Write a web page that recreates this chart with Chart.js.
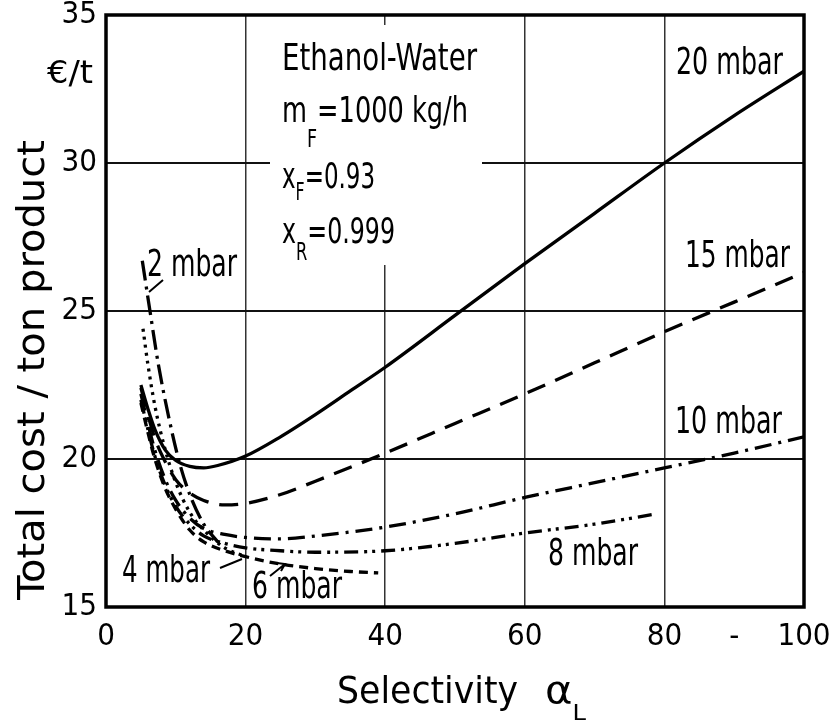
<!DOCTYPE html>
<html>
<head>
<meta charset="utf-8">
<script src="https://cdn.jsdelivr.net/npm/chart.js@4.4.1/dist/chart.umd.min.js"></script>
<style>
  html, body { margin: 0; padding: 0; background: #fff; }
  #chart { display: block; }
</style>
</head>
<body>
<canvas id="chart" width="829" height="724"></canvas>
<script>
// --- data ---
const FONT = "'Liberation Sans Narrow', 'DejaVu Sans Condensed', 'Arial Narrow', sans-serif";

const xTickLabels = ['0', '', '20', '', '40', '', '60', '', '80', '-', '100']; // every 10
const yTickLabels = ['15', '20', '25', '30', '35'];

// 20 mbar (solid)
const p20x = [5, 6, 7, 8.5, 10, 12, 14, 16, 20, 25, 30, 35, 40, 50, 60, 70, 80, 90, 100];
const p20y = [22.5, 21.7, 21.0, 20.3, 19.95, 19.75, 19.7, 19.78, 20.1, 20.75, 21.5, 22.3, 23.1, 24.85, 26.6, 28.3, 30.0, 31.6, 33.1];
// 15 mbar (dashed)
const p15x = [5, 6, 7, 8.5, 10, 12, 14, 17, 20, 25, 30, 40, 50, 60, 70, 80, 90, 100];
const p15y = [22.4, 21.5, 20.7, 19.9, 19.3, 18.85, 18.6, 18.45, 18.5, 18.8, 19.25, 20.2, 21.2, 22.2, 23.25, 24.3, 25.3, 26.3];
// 10 mbar (dash-dot)
const p10x = [5, 6, 7, 8.5, 10, 12, 14, 17, 20, 25, 30, 40, 50, 60, 70, 80, 90, 100];
const p10y = [22.2, 21.2, 20.3, 19.3, 18.6, 18.0, 17.65, 17.45, 17.35, 17.3, 17.4, 17.7, 18.15, 18.7, 19.2, 19.7, 20.2, 20.75];
// 8 mbar (dash-dot-dot)
const p8x = [5, 6, 7, 8.5, 10, 12, 14, 17, 20, 25, 30, 40, 50, 60, 70, 79];
const p8y = [22.0, 21.0, 20.1, 19.1, 18.4, 17.8, 17.4, 17.15, 17.0, 16.9, 16.85, 16.9, 17.15, 17.5, 17.8, 18.15];
// 6 mbar (short dashes)
const p6x = [5, 6, 7, 8.5, 10, 12, 14, 17, 20, 25, 30, 35, 39];
const p6y = [21.9, 20.9, 20.0, 19.0, 18.3, 17.6, 17.2, 16.9, 16.7, 16.45, 16.3, 16.2, 16.15];
// 4 mbar (dotted)
const p4x = [5.3, 6, 7, 8.5, 10, 12, 14, 17, 20];
const p4y = [24.4, 23.2, 21.8, 20.3, 19.2, 18.2, 17.6, 17.0, 16.7];
// 2 mbar (long dash-dot)
const p2x = [5.2, 6.3, 7.5, 9, 10.5, 12, 14, 16];
const p2y = [26.7, 25.0, 23.2, 21.4, 19.9, 18.8, 17.8, 17.2];

function pts(xs, ys) {
    return xs.map((x, i) => ({ x: x, y: ys[i] }));
}

function series(label, xs, ys, dash) {
    return {
        label: label,
        data: pts(xs, ys),
        borderColor: '#000',
        borderWidth: 3.3,
        borderDash: dash,
        pointRadius: 0,
        fill: false,
        cubicInterpolationMode: 'monotone'
    };
}

// draw a text made of parts (some subscripted), squeezed to a target width
function drawRich(ctx, parts, x, y, targetW, size) {
    let w = 0;
    parts.forEach(p => {
        ctx.font = (p.sub ? p.size : size) + 'px ' + FONT;
        w += ctx.measureText(p.t).width;
    });
    const k = targetW ? targetW / w : 1;
    ctx.save();
    ctx.translate(x, y);
    ctx.scale(k, 1);
    let cx = 0;
    parts.forEach(p => {
        ctx.font = (p.sub ? p.size : size) + 'px ' + FONT;
        ctx.fillText(p.t, cx, p.sub ? p.dy : 0);
        cx += ctx.measureText(p.t).width;
    });
    ctx.restore();
}

const decor = {
    id: 'decor',
    beforeDatasetsDraw(chart) {
        const ctx = chart.ctx;
        // white panel behind the info text block
        ctx.save();
        ctx.fillStyle = '#fff';
        ctx.fillRect(270, 25, 212, 240);
        ctx.restore();
    },
    afterDraw(chart) {
        const ctx = chart.ctx;
        const a = chart.chartArea;
        ctx.save();
        ctx.strokeStyle = '#000';
        ctx.lineWidth = 3.5;
        ctx.strokeRect(a.left, a.top, a.right - a.left, a.bottom - a.top);

        ctx.fillStyle = '#000';
        ctx.textBaseline = 'alphabetic';
        ctx.textAlign = 'left';

        // info block
        drawRich(ctx, [{ t: 'Ethanol-Water' }], 282, 70, 195, 38);
        drawRich(ctx, [{ t: 'm' }, { t: 'F', sub: true, size: 24, dy: 25 }, { t: '=1000 kg/h' }], 282, 122, 186, 35);
        drawRich(ctx, [{ t: 'x' }, { t: 'F', sub: true, size: 24, dy: 12 }, { t: '=0.93' }], 282, 188, 93, 35);
        drawRich(ctx, [{ t: 'x' }, { t: 'R', sub: true, size: 24, dy: 17 }, { t: '=0.999' }], 282, 243, 113, 35);

        // curve labels
        drawRich(ctx, [{ t: '20 mbar' }], 676, 74, 107, 38);
        drawRich(ctx, [{ t: '15 mbar' }], 685, 267, 105, 38);
        drawRich(ctx, [{ t: '10 mbar' }], 675, 433, 107, 38);
        drawRich(ctx, [{ t: '8 mbar' }], 548, 565, 90, 38);
        drawRich(ctx, [{ t: '6 mbar' }], 252, 598, 90, 38);
        drawRich(ctx, [{ t: '4 mbar' }], 122, 582, 88, 38);
        drawRich(ctx, [{ t: '2 mbar' }], 147, 276, 90, 38);

        // leader lines
        ctx.lineWidth = 2;
        ctx.beginPath();
        ctx.moveTo(149, 292); ctx.lineTo(163, 280);
        ctx.moveTo(220, 568); ctx.lineTo(242, 559);
        ctx.moveTo(270, 576); ctx.lineTo(285, 564);
        ctx.moveTo(277, 563); ctx.lineTo(285, 564); ctx.lineTo(281, 571);
        ctx.stroke();

        // unit under the top y tick
        drawRich(ctx, [{ t: '\u20AC/t' }], 47, 83, 46, 32);

        // x axis title
        drawRich(ctx, [{ t: 'Selectivity' }], 337, 703, 181, 38);
        drawRich(ctx, [{ t: '\u03B1' }, { t: 'L', sub: true, size: 22, dy: 17 }], 545, 703, 41, 38);

        // y axis title (rotated)
        ctx.translate(44, 600);
        ctx.rotate(-Math.PI / 2);
        drawRich(ctx, [{ t: 'Total cost / ton product' }], 0, 0, 460, 37);
        ctx.restore();
    }
};

new Chart(document.getElementById('chart').getContext('2d'), {
    type: 'line',
    data: {
        datasets: [
            series('20 mbar', p20x, p20y, []),
            series('15 mbar', p15x, p15y, [19, 11]),
            series('10 mbar', p10x, p10y, [17, 7, 3, 7]),
            series('8 mbar', p8x, p8y, [14, 6, 3, 5, 3, 6]),
            series('6 mbar', p6x, p6y, [9, 6]),
            series('4 mbar', p4x, p4y, [3, 5]),
            series('2 mbar', p2x, p2y, [20, 6, 3, 6])
        ]
    },
    options: {
        responsive: false,
        animation: false,
        events: [],
        layout: { padding: { top: 15, right: 25, left: 0, bottom: 0 } },
        plugins: {
            legend: { display: false },
            tooltip: { enabled: false }
        },
        scales: {
            x: {
                type: 'linear',
                min: 0,
                max: 100,
                border: { display: false },
                grid: {
                    drawTicks: false,
                    lineWidth: 1.5,
                    color: (c) => {
                        const v = c.tick ? c.tick.value : 0;
                        return (v % 20 === 0 && v > 0 && v < 100) ? '#333' : 'rgba(0,0,0,0)';
                    }
                },
                ticks: {
                    stepSize: 10,
                    autoSkip: false,
                    maxRotation: 0,
                    padding: 11,
                    color: '#000',
                    font: { family: FONT, size: 31 },
                    callback: (v) => xTickLabels[Math.round(v / 10)]
                },
                afterFit: (s) => { s.height = 117; s.paddingLeft = 0; s.paddingRight = 0; }
            },
            y: {
                min: 15,
                max: 35,
                border: { display: false },
                grid: {
                    drawTicks: false,
                    lineWidth: 2,
                    color: (c) => {
                        const v = c.tick ? c.tick.value : 15;
                        return (v > 15 && v < 35) ? '#111' : 'rgba(0,0,0,0)';
                    }
                },
                ticks: {
                    stepSize: 5,
                    padding: 9,
                    color: '#000',
                    font: { family: FONT, size: 31 },
                    callback: (v) => yTickLabels[Math.round((v - 15) / 5)]
                },
                afterFit: (s) => { s.width = 106; s.paddingTop = 0; s.paddingBottom = 0; }
            }
        }
    },
    plugins: [decor]
});
</script>
</body>
</html>
